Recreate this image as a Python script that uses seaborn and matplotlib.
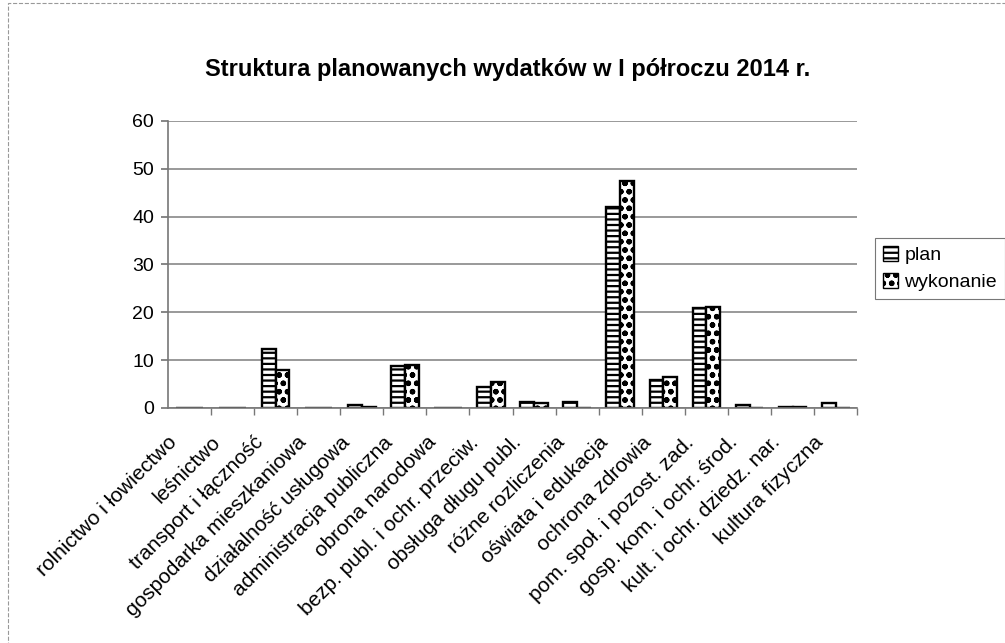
import matplotlib
matplotlib.use("Agg")
import matplotlib.pyplot as plt
import seaborn as sns
import pandas as pd
from matplotlib.patches import Patch, Rectangle
from matplotlib.transforms import ScaledTranslation

categories = [
    "rolnictwo i łowiectwo", "leśnictwo", "transport i łączność",
    "gospodarka mieszkaniowa", "działalność usługowa", "administracja publiczna",
    "obrona narodowa", "bezp. publ. i ochr. przeciw.", "obsługa długu publ.",
    "różne rozliczenia", "oświata i edukacja", "ochrona zdrowia",
    "pom. społ. i pozost. zad.", "gosp. kom. i ochr. środ.",
    "kult. i ochr. dziedz. nar.", "kultura fizyczna",
]
plan = [0, 0, 12.4, 0, 0.7, 8.8, 0, 4.4, 1.3, 1.2, 42.1, 5.8, 20.8, 0.6, 0.3, 1.0]
wykonanie = [0, 0, 8.0, 0, 0.3, 8.9, 0, 5.4, 1.1, 0, 47.5, 6.4, 21.1, 0, 0.3, 0]
series = ["plan", "wykonanie"]
title = "Struktura planowanych wydatków w I półroczu 2014 r."
yticks = [0, 10, 20, 30, 40, 50, 60]

df = pd.DataFrame({
    "kategoria": categories * 2,
    "seria": [series[0]] * len(categories) + [series[1]] * len(categories),
    "wartosc": plan + wykonanie,
})

sns.set_theme(style="white")
plt.rcParams["font.family"] = ["Liberation Sans", "DejaVu Sans"]
plt.rcParams["hatch.linewidth"] = 1.6
plt.rcParams["text.color"] = "black"

fig = plt.figure(figsize=(10.05, 6.43), dpi=100)
ax = fig.add_axes([0.167, 0.3655, 0.686, 0.4465])

hatches = {"plan": "---", "wykonanie": "oo"}
sns.barplot(data=df, x="kategoria", y="wartosc", hue="seria", order=categories,
            hue_order=series, palette=["white", "white"], width=0.64,
            edgecolor="black", linewidth=1.7, ax=ax, legend=False)
for cont, s in zip(ax.containers, series):
    for p in cont:
        p.set_hatch(hatches[s])

ax.set_ylim(0, 60)
ax.set_xlim(-0.5, len(categories) - 0.5)
ax.set_yticks(yticks)
ax.set_yticklabels([str(v) for v in yticks], fontsize=14, color="black")
ax.yaxis.grid(True, color="#888888", linewidth=1.2)
ax.set_axisbelow(True)
ax.set_xlabel("")
ax.set_ylabel("")
for s in ["top", "right"]:
    ax.spines[s].set_visible(False)
for s in ["left", "bottom"]:
    ax.spines[s].set_color("#777777")
    ax.spines[s].set_linewidth(1.2)
ax.tick_params(axis="y", length=5, color="#777777", direction="out", pad=5, left=True)
ax.set_xticks(range(len(categories)))
ax.set_xticklabels(categories, rotation=45, ha="right", rotation_mode="anchor",
                   fontsize=15, color="black")
ax.tick_params(axis="x", which="major", length=0, pad=12)
off = ScaledTranslation(-0.22, -0.08, fig.dpi_scale_trans)
for lbl in ax.get_xticklabels():
    lbl.set_transform(lbl.get_transform() + off)
ax.set_xticks([i + 0.5 for i in range(len(categories))], minor=True)
ax.tick_params(axis="x", which="minor", length=5, color="#777777", direction="out", bottom=True)

fig.text(0.505, 0.892, title, ha="center", va="center", fontsize=17,
         fontweight="bold", color="black")

handles = [Patch(facecolor="white", edgecolor="black", hatch=hatches[s], label=s) for s in series]
leg = fig.legend(handles=handles, loc="upper left", bbox_to_anchor=(0.861, 0.645),
                 frameon=True, handlelength=0.8, handleheight=0.8,
                 handletextpad=0.3, borderpad=0.4, labelspacing=0.45,
                 prop={"size": 14}, labelcolor="black")
leg.get_frame().set_edgecolor("#555555")
leg.get_frame().set_linewidth(0.8)
leg.get_frame().set_boxstyle("square", pad=0)

fig.add_artist(Rectangle((0.008, -0.01), 1.0, 1.005, transform=fig.transFigure,
                         fill=False, edgecolor="#999999", linewidth=0.8, linestyle="--"))

fig.savefig("out.png", dpi=100)
